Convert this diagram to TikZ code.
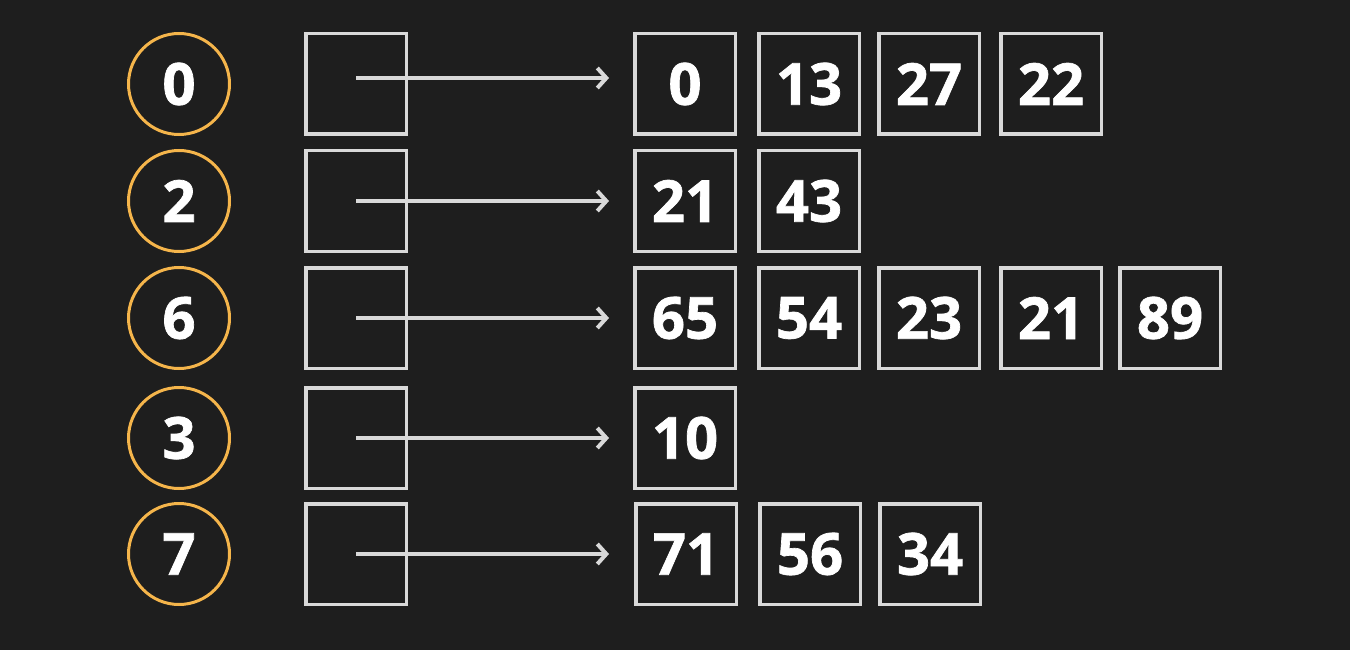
\documentclass[tikz,border=0pt]{standalone}
\usepackage{fontspec}
\setmainfont{Open Sans}[BoldFeatures={FakeBold=1.2}]
\usetikzlibrary{arrows.meta}
\definecolor{bg}{HTML}{1E1E1E}
\definecolor{ring}{HTML}{F5B54B}
\definecolor{edge}{HTML}{D9D9D9}
\tikzset{
  idx/.style={circle, draw=ring, line width=3pt, minimum size=101pt, inner sep=0pt, text=white, font=\fontsize{58}{58}\selectfont\bfseries},
  ptr/.style={rectangle, draw=edge, line width=3.5pt, minimum size=100.5pt, inner sep=0pt},
  val/.style={rectangle, draw=edge, line width=3.5pt, minimum size=100.5pt, inner sep=0pt, text=white, font=\fontsize{58}{58}\selectfont\bfseries},
  link/.style={draw=edge, line width=4pt, -{Straight Barb[length=9pt,width=20pt,line width=4pt]}}
}
\begin{document}
\begin{tikzpicture}[x=1pt,y=-1pt]
\fill[bg] (0,0) rectangle (1350,650);
\useasboundingbox (0,0) rectangle (1350,650);
% row 0
\node[idx] (c0) at (179,84) {0};
\node[ptr] (p0) at (356,84) {};
\coordinate (e0) at (609,78);
\node[val] (v00) at (685,84) {0};
\node[val] (v01) at (809,84) {13};
\node[val] (v02) at (929,84) {27};
\node[val] (v03) at (1051,84) {22};
\draw[link] (p0.center |- e0) -- (e0);
% row 2
\node[idx] (c1) at (179,201) {2};
\node[ptr] (p1) at (356,201) {};
\coordinate (e1) at (609,201);
\node[val] (v10) at (685,201) {21};
\node[val] (v11) at (809,201) {43};
\draw[link] (p1.center) -- (e1);
% row 6
\node[idx] (c2) at (179,318) {6};
\node[ptr] (p2) at (356,318) {};
\coordinate (e2) at (609,318);
\node[val] (v20) at (685,318) {65};
\node[val] (v21) at (809,318) {54};
\node[val] (v22) at (929,318) {23};
\node[val] (v23) at (1051,318) {21};
\node[val] (v24) at (1170,318) {89};
\draw[link] (p2.center) -- (e2);
% row 3
\node[idx] (c3) at (179,438) {3};
\node[ptr] (p3) at (356,438) {};
\coordinate (e3) at (609,438);
\node[val] (v30) at (685,438) {10};
\draw[link] (p3.center) -- (e3);
% row 7
\node[idx] (c4) at (179,554) {7};
\node[ptr] (p4) at (356,554) {};
\coordinate (e4) at (609,554);
\node[val] (v40) at (686,554) {71};
\node[val] (v41) at (810,554) {56};
\node[val] (v42) at (930,554) {34};
\draw[link] (p4.center) -- (e4);
\end{tikzpicture}
\end{document}
